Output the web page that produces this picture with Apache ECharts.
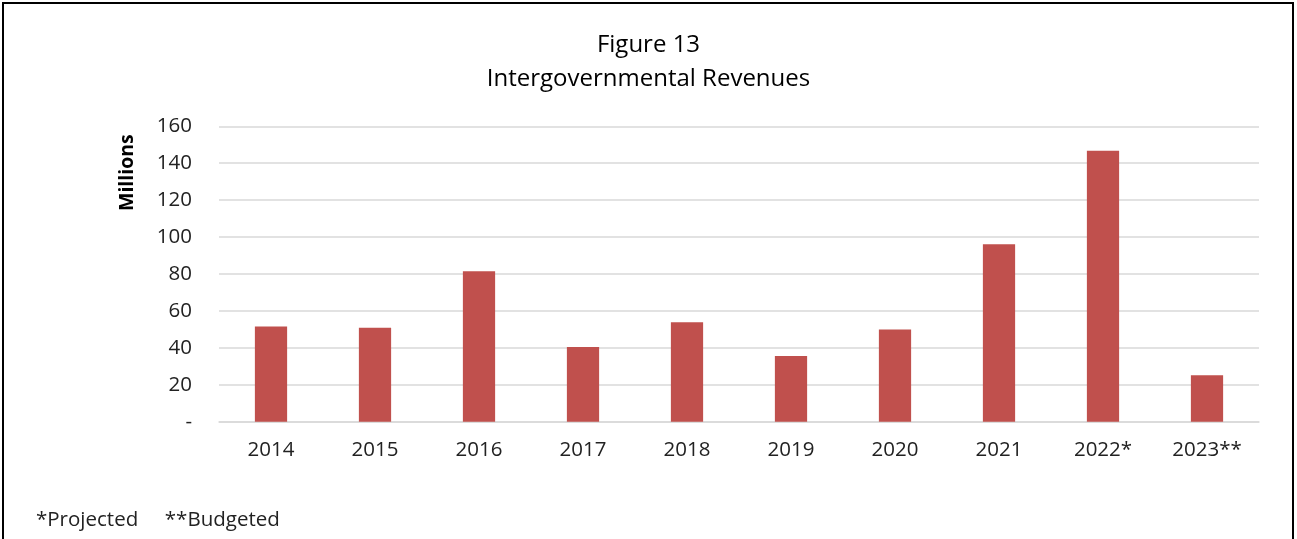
<!DOCTYPE html>
<html><head><meta charset="utf-8">
<script src="https://cdn.jsdelivr.net/npm/echarts@6/dist/echarts.min.js"></script>
<style>html,body{margin:0;padding:0;background:#fff}#c{width:1297px;height:539px}</style>
</head><body><div id="c"></div>
<script>
const categories = ['2014','2015','2016','2017','2018','2019','2020','2021','2022*','2023**'];
const revenues = [51.5, 50.9, 81.5, 40.5, 53.8, 35.6, 50.0, 96.1, 146.8, 25.1];
const yTicks = [0, 20, 40, 60, 80, 100, 120, 140, 160];

const font = '"Open Sans", "Noto Sans", sans-serif';
const chart = echarts.init(document.getElementById('c'), null, {renderer: 'canvas'});
chart.setOption({
  animation: false,
  backgroundColor: '#fff',
  title: {
    text: 'Figure 13\nIntergovernmental Revenues',
    left: 'center', top: 23,
    textStyle: {fontFamily: font, fontSize: 24, fontWeight: 'normal', color: '#000', lineHeight: 34}
  },
  grid: {left: 219, right: 38, top: 126.3, bottom: 117.3, containLabel: false},
  xAxis: {
    type: 'category', data: categories,
    axisLine: {show: true, lineStyle: {color: '#D9D9D9', width: 1.5}},
    axisTick: {show: false},
    axisLabel: {fontFamily: font, fontSize: 20.5, color: '#222', margin: 18}
  },
  yAxis: {
    type: 'value', min: yTicks[0], max: yTicks[yTicks.length - 1], interval: 20,
    axisLine: {show: false}, axisTick: {show: false},
    splitLine: {lineStyle: {color: '#D9D9D9', width: 1.5}},
    axisLabel: {fontFamily: font, fontSize: 20.5, color: '#222', margin: 27,
      formatter: v => v === 0 ? '-' : String(v)}
  },
  series: [{
    type: 'bar', data: revenues, barWidth: '31%',
    itemStyle: {color: '#C0504D'}
  }],
  graphic: [
    {type: 'rect', shape: {x: 3, y: 3, width: 1290, height: 560},
     style: {fill: 'none', stroke: '#000', lineWidth: 2}, silent: true},
    {type: 'text', x: 117, y: 211, rotation: Math.PI / 2,
     style: {text: 'Millions', fontFamily: font, fontSize: 19.5, fontWeight: 'bold', fill: '#000',
       textAlign: 'left', textVerticalAlign: 'top'}},
    {type: 'text', left: 36, top: 510,
     style: {text: '*Projected     **Budgeted', fontFamily: font, fontSize: 20.5, fill: '#222'}}
  ]
});
</script></body></html>
